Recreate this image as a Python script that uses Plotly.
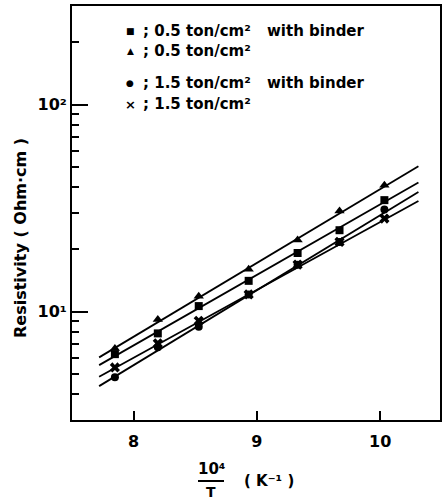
import plotly.graph_objects as go

# ---------------- data ----------------
inv_T = [7.848, 8.196, 8.528, 8.933, 9.33, 9.67, 10.034]          # 10^4 / T  (K^-1)
rho_05_binder = [6.25, 7.87, 10.66, 14.11, 19.23, 24.77, 34.6]     # 0.5 ton/cm2 with binder
rho_05 = [6.66, 9.19, 11.9, 16.07, 22.2, 30.7, 40.8]               # 0.5 ton/cm2
rho_15_binder = [4.83, 6.74, 8.47, 12.13, 16.89, 21.75, 31.2]      # 1.5 ton/cm2 with binder
rho_15 = [5.39, 7.04, 9.05, 12.13, 16.89, 21.75, 28.2]             # 1.5 ton/cm2

fit_x = [7.72, 10.31]
fit_05_binder = [5.53, 42.1]
fit_05 = [6.03, 50.4]
fit_15_binder = [4.38, 37.9]
fit_15 = [4.86, 34.3]

x_ticks = [8, 9, 10]
y_ticks = [10, 100]
y_ticktext = ["10\u00b9", "10\u00b2"]
y_minor = [3, 4, 5, 6, 7, 8, 9, 20, 30, 40, 50, 60, 70, 80, 90, 200, 300]

legend_labels = ["; 0.5 ton/cm\u00b2", "; 0.5 ton/cm\u00b2", "; 1.5 ton/cm\u00b2", "; 1.5 ton/cm\u00b2"]
legend_extra = ["with binder", "", "with binder", ""]
legend_glyphs = ["\u25a0", "\u25b2", "\u25cf", "\u00d7"]

# ---------------- figure ----------------
W, H = 442, 502
ML, MR, MT, MB = 72, 2, 6, 82
PW, PH = W - ML - MR, H - MT - MB


def px(xp):
    return (xp - ML) / PW


def py(yp):
    return (H - MB - yp) / PH


FONT = "DejaVu Sans"
BLACK = "#000000"

fig = go.Figure()

series = [
    (fit_05_binder, rho_05_binder, "square", 8),
    (fit_05, rho_05, "triangle-up", 9),
    (fit_15_binder, rho_15_binder, "circle", 8),
    (fit_15, rho_15, "x", 9),
]

for fit_y, vals, sym, sz in series:
    fig.add_trace(go.Scatter(x=fit_x, y=fit_y, mode="lines",
                             line=dict(color=BLACK, width=1.8),
                             showlegend=False, hoverinfo="skip"))
    fig.add_trace(go.Scatter(x=inv_T, y=vals, mode="markers",
                             marker=dict(symbol=sym, size=sz, color=BLACK,
                                         line=dict(width=0)),
                             showlegend=False))

fig.update_layout(
    width=W, height=H,
    margin=dict(l=ML, r=MR, t=MT, b=MB, pad=0),
    paper_bgcolor="white", plot_bgcolor="white",
    font=dict(family=FONT, size=15, color=BLACK, weight="bold"),
    showlegend=False,
)

fig.update_xaxes(
    range=[7.5, 10.485], showgrid=False, zeroline=False,
    showline=True, linecolor=BLACK, linewidth=2, mirror=True,
    ticks="inside", ticklen=9, tickwidth=2, tickcolor=BLACK,
    tickvals=x_ticks, ticktext=[str(v) for v in x_ticks],
    tickfont=dict(family=FONT, size=16, color=BLACK, weight="bold"),
    ticklabelstandoff=6, automargin=False,
)

fig.update_yaxes(
    type="log", range=[0.478, 2.476], showgrid=False, zeroline=False,
    showline=True, linecolor=BLACK, linewidth=2, mirror=True,
    ticks="inside", ticklen=16, tickwidth=2, tickcolor=BLACK,
    tickvals=y_ticks, ticktext=y_ticktext,
    tickfont=dict(family=FONT, size=16, color=BLACK, weight="bold"),
    minor=dict(tickvals=y_minor, ticks="inside", ticklen=7, tickwidth=2,
               tickcolor=BLACK, showgrid=False),
    automargin=False,
)

ann = []
# legend (text keys)
rows_y = [31, 51, 83, 104]
for gl, lab, extra, ry in zip(legend_glyphs, legend_labels, legend_extra, rows_y):
    gsize = 13 if gl == "\u00d7" else 9
    ann.append(dict(x=px(130), y=py(ry), xref="paper", yref="paper",
                    text=gl, showarrow=False, xanchor="center", yanchor="middle",
                    font=dict(family=FONT, size=gsize, color=BLACK, weight="bold")))
    ann.append(dict(x=px(141), y=py(ry), xref="paper", yref="paper",
                    text=lab, showarrow=False, xanchor="left", yanchor="middle",
                    font=dict(family=FONT, size=15, color=BLACK, weight="bold")))
    if extra:
        ann.append(dict(x=px(265), y=py(ry), xref="paper", yref="paper",
                        text=extra, showarrow=False, xanchor="left", yanchor="middle",
                        font=dict(family=FONT, size=15, color=BLACK, weight="bold")))

# x-axis title as a fraction
ann.append(dict(x=px(211), y=py(469), xref="paper", yref="paper",
                text="10\u2074", showarrow=False, xanchor="center", yanchor="middle",
                font=dict(family=FONT, size=15, color=BLACK, weight="bold")))
ann.append(dict(x=px(211), y=py(492), xref="paper", yref="paper",
                text="T", showarrow=False, xanchor="center", yanchor="middle",
                font=dict(family=FONT, size=14, color=BLACK, weight="bold")))
ann.append(dict(x=px(269), y=py(481), xref="paper", yref="paper",
                text="( K\u207b\u00b9 )", showarrow=False, xanchor="center", yanchor="middle",
                font=dict(family=FONT, size=15, color=BLACK, weight="bold")))
# y-axis title
ann.append(dict(x=px(20), y=py(238), xref="paper", yref="paper",
                text="Resistivity ( Ohm\u00b7cm )", showarrow=False, textangle=-90,
                xanchor="center", yanchor="middle",
                font=dict(family=FONT, size=16, color=BLACK, weight="bold")))

fig.update_layout(annotations=ann)

fig.add_shape(type="line", xref="paper", yref="paper",
              x0=px(198), x1=px(224), y0=py(481), y1=py(481),
              line=dict(color=BLACK, width=2))

fig.write_html(
    "out.html",
    config={"displayModeBar": False},
    post_script="document.body.style.margin='0';document.body.style.padding='0';"
                "document.body.style.overflow='hidden';",
)
